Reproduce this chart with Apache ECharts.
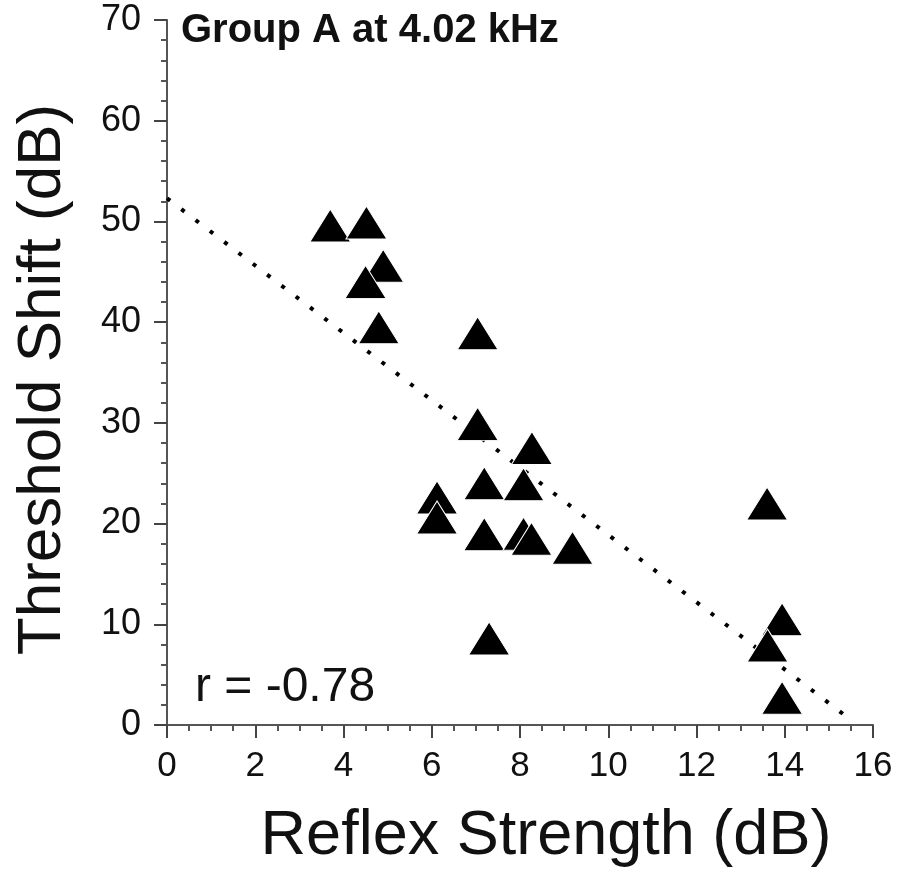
<!DOCTYPE html>
<html>
<head>
<meta charset="utf-8">
<script src="https://cdn.jsdelivr.net/npm/echarts@6/dist/echarts.min.js"></script>
<style>
  html, body { margin: 0; padding: 0; background: #fff; }
  #chart { width: 909px; height: 873px; }
</style>
</head>
<body>
<div id="chart"></div>
<script>
// Reflex strength (dB) and threshold shift (dB) for each subject
const reflexStrength = [3.70, 4.52, 4.90, 4.50, 4.80, 7.04, 7.04, 8.27, 7.19, 8.08, 6.12,
                        6.12, 7.19, 8.08, 8.26, 9.19, 7.30, 13.60, 13.94, 13.61, 13.94];
const thresholdShift = [49.6, 49.9, 45.6, 44.0, 39.5, 38.9, 29.9, 27.5, 24.0, 23.9, 22.6,
                        20.6, 18.95, 19.0, 18.5, 17.6, 8.6, 22.0, 10.5, 7.9, 2.7];

// Regression line end points [reflex, threshold]
const fitStart = [0, 52.3];
const fitEnd = [15.5, 0.5];

// Axis ranges and steps
const xRange = [0, 16, 2];
const yRange = [0, 70, 10];

const panelTitle = 'Group A at 4.02 kHz';
const corrLabel = 'r = -0.78';
const xTitle = 'Reflex Strength (dB)';
const yTitle = 'Threshold Shift (dB)';

const FONT = '"Liberation Sans", Arial, Helvetica, sans-serif';
const points = reflexStrength.map((x, i) => [x, thresholdShift[i]]);

const chart = echarts.init(document.getElementById('chart'), null, { renderer: 'canvas' });

const axisCommon = {
  axisLine: { show: true, onZero: false, lineStyle: { color: '#555', width: 2 } },
  axisTick: { show: true, inside: false, length: 13, lineStyle: { color: '#444', width: 2 } },
  minorTick: { show: true, length: 6, lineStyle: { color: '#555', width: 2 } },
  splitLine: { show: false },
  minorSplitLine: { show: false }
};

chart.setOption({
  animation: false,
  backgroundColor: '#fff',
  grid: { left: 167, right: 36, top: 20, bottom: 148, containLabel: false },
  xAxis: Object.assign({}, axisCommon, {
    type: 'value',
    min: xRange[0], max: xRange[1], interval: xRange[2],
    minorTick: Object.assign({}, axisCommon.minorTick, { splitNumber: 4 }),
    axisLabel: { fontFamily: FONT, fontSize: 35, color: '#111', margin: 24 },
    name: xTitle,
    nameLocation: 'middle',
    nameGap: 80,
    nameTextStyle: { fontFamily: FONT, fontSize: 63, color: '#111', padding: [0, 0, 0, 52] }
  }),
  yAxis: Object.assign({}, axisCommon, {
    type: 'value',
    min: yRange[0], max: yRange[1], interval: yRange[2],
    minorTick: Object.assign({}, axisCommon.minorTick, { splitNumber: 5 }),
    axisLabel: { fontFamily: FONT, fontSize: 36, color: '#111', margin: 26 },
    name: yTitle,
    nameLocation: 'middle',
    nameRotate: 90,
    nameGap: 93,
    nameTextStyle: { fontFamily: FONT, fontSize: 62, color: '#111', padding: [0, 14, 0, 0] }
  }),
  graphic: [
    {
      type: 'text', x: 181, y: 31, z: 10,
      style: { text: panelTitle, fontFamily: FONT, fontWeight: 'bold', fontSize: 40,
               fill: '#111', verticalAlign: 'middle', align: 'left' }
    },
    {
      type: 'text', x: 195, y: 688, z: 10,
      style: { text: corrLabel, fontFamily: FONT, fontSize: 48,
               fill: '#111', verticalAlign: 'middle', align: 'left' }
    }
  ],
  series: [
    {
      type: 'line',
      data: [fitStart, fitEnd],
      symbol: 'none',
      z: 1,
      lineStyle: { color: '#000', width: 4, type: [4, 14], cap: 'butt' }
    },
    {
      type: 'scatter',
      data: points,
      symbol: 'triangle',
      symbolSize: [41, 33],
      z: 3,
      itemStyle: { color: '#000', borderColor: '#fff', borderWidth: 1, opacity: 1 }
    }
  ]
});
</script>
</body>
</html>
